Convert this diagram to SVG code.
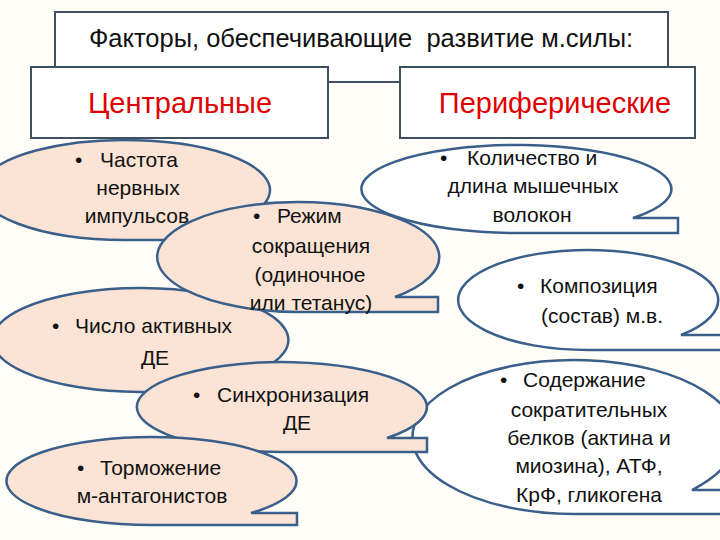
<svg xmlns="http://www.w3.org/2000/svg" width="720" height="540" viewBox="0 0 720 540">
<style>
.box{fill:#FFFFFF;stroke:#3E4F60;stroke-width:2}
.pe{fill:#FBE4D5;stroke:#3A5F8A;stroke-width:2.5;stroke-linejoin:miter}
.wh{fill:#FFFFFF;stroke:#3A5F8A;stroke-width:2.5;stroke-linejoin:miter}
.t{font-family:"Liberation Sans",Arial,sans-serif;font-size:21px;fill:#111111}
.m{text-anchor:middle}
.title{font-family:"Liberation Sans",Arial,sans-serif;font-size:25.5px;fill:#111111;text-anchor:middle}
.red{font-family:"Liberation Sans",Arial,sans-serif;font-size:29px;fill:#E00000;text-anchor:middle}
</style>
<rect width="720" height="540" fill="#FFFDF8"/>
<g id="connectors"/>
<g id="title">
<rect class="box" x="55" y="12" width="613" height="70"/>
<text class="title" x="361" y="47" xml:space="preserve">Факторы, обеспечивающие  развитие м.силы:</text>
</g>
<g id="central">
<rect class="box" x="31" y="67" width="297" height="71"/>
<text class="red" x="180" y="113">Центральные</text>
</g>
<g id="peripheral">
<rect class="box" x="400" y="67" width="295" height="71"/>
<text class="red" x="555" y="113">Периферические</text>
</g>
<g id="n-frequency">
<path class="pe" d="M265,203 L300,203 L300,240 L125,240 A145,50 0 1 1 265,203 Z"/>
<text class="t" x="75" y="167">•<tspan x="100">Частота</tspan></text>
<text class="t m" x="138" y="195">нервных</text>
<text class="t m" x="137" y="223">импульсов</text>
</g>
<g id="n-active">
<path class="pe" d="M257,372 L300,372 L300,392 L140,392 A148,52 0 1 1 257,372 Z"/>
<text class="t" x="52" y="333">•<tspan x="75">Число активных</tspan></text>
<text class="t m" x="155" y="365">ДЕ</text>
</g>
<g id="n-mode">
<path class="pe" d="M395,297 L438,297 L438,312 L298,312 A141,55 0 1 1 395,297 Z"/>
<text class="t" x="253" y="223">•<tspan x="277">Режим</tspan></text>
<text class="t m" x="311" y="253">сокращения</text>
<text class="t m" x="310" y="282">(одиночное</text>
<text class="t m" x="311" y="310">или тетанус)</text>
</g>
<g id="n-count">
<path class="wh" d="M633,218 L678,218 L678,233 L517,233 A155,44 0 1 1 633,218 Z"/>
<text class="t" x="440" y="165">•<tspan x="467">Количество и</tspan></text>
<text class="t m" x="533" y="193">длина мышечных</text>
<text class="t m" x="532" y="222">волокон</text>
</g>
<g id="n-composition">
<path class="wh" d="M681,335 L725,335 L725,350 L588,350 A130,50 0 1 1 681,335 Z"/>
<text class="t" x="517" y="293">•<tspan x="540">Композиция</tspan></text>
<text class="t m" x="602" y="323">(состав) м.в.</text>
</g>
<g id="n-content">
<path class="wh" d="M692,490 L735,490 L735,514 L575,514 A162,77 0 1 1 692,490 Z"/>
<text class="t" x="500" y="387">•<tspan x="523">Содержание</tspan></text>
<text class="t m" x="589" y="417">сократительных</text>
<text class="t m" x="589" y="445">белков (актина и</text>
<text class="t m" x="589" y="473">миозина), АТФ,</text>
<text class="t m" x="589" y="502">КрФ, гликогена</text>
</g>
<g id="n-sync">
<path class="pe" d="M387,438 L427,438 L427,452 L282,452 A145,45 0 1 1 387,438 Z"/>
<text class="t" x="193" y="402">•<tspan x="217">Синхронизация</tspan></text>
<text class="t m" x="297" y="430">ДЕ</text>
</g>
<g id="n-inhibition">
<path class="pe" d="M251,513 L297,513 L297,525 L152,525 A145,44 0 1 1 251,513 Z"/>
<text class="t" x="77" y="475">•<tspan x="100">Торможение</tspan></text>
<text class="t m" x="152" y="503">м-антагонистов</text>
</g>
</svg>
